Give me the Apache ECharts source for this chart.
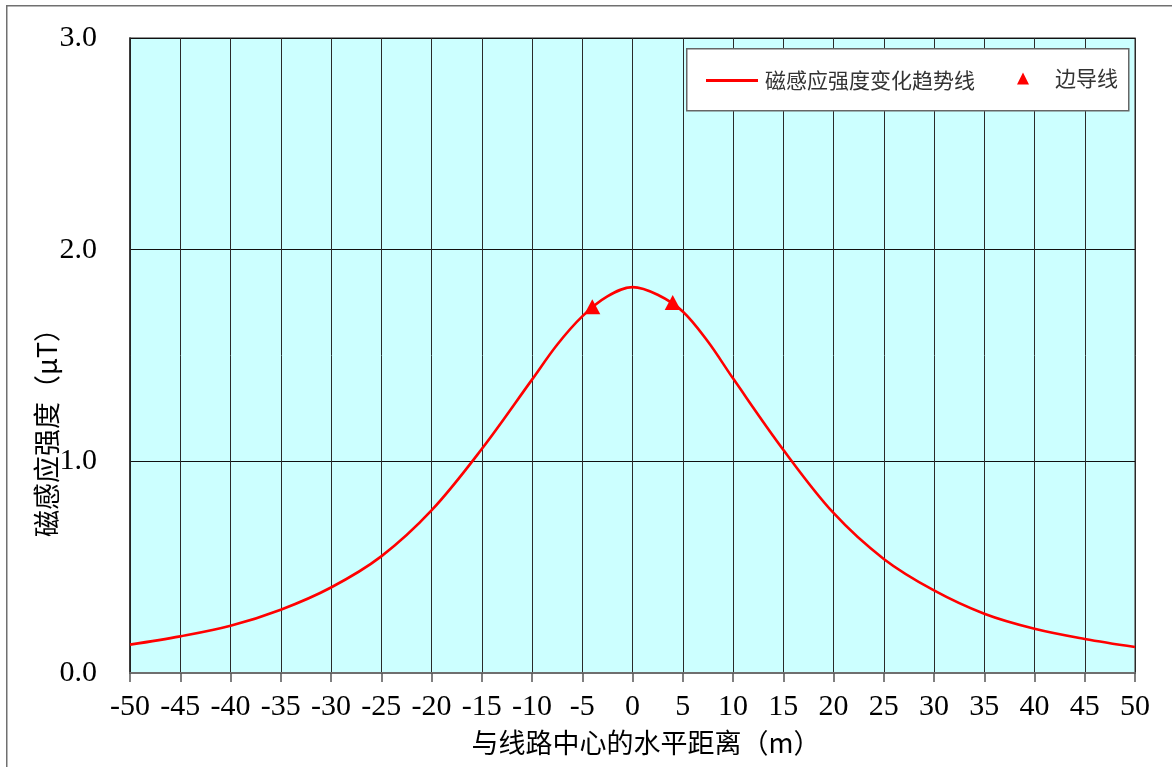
<!DOCTYPE html>
<html>
<head>
<meta charset="utf-8">
<script src="https://cdn.jsdelivr.net/npm/echarts@6/dist/echarts.min.js"></script>
<style>
html,body{margin:0;padding:0;background:#fff;}
#chart{width:1172px;height:767px;}
</style>
</head>
<body>
<div id="chart"></div>
<script>
// distance from line centre (m)
var distances = [-50, -45, -40, -35, -30, -25, -20, -15, -10, -7.5, -5, -2.5, 0, 2.5, 5, 7.5, 10, 15, 20, 25, 30, 35, 40, 45, 50];
// magnetic induction (μT)
var fieldValues = [0.134, 0.173, 0.223, 0.299, 0.404, 0.551, 0.768, 1.058, 1.386, 1.551, 1.685, 1.779, 1.823, 1.787, 1.708, 1.566, 1.392, 1.055, 0.756, 0.539, 0.390, 0.280, 0.209, 0.161, 0.123];
// side conductors
var conductorX = [-4, 4];
var conductorY = [1.73, 1.75];

var lineName = '磁感应强度变化趋势线';
var condName = '边导线';
var xTitle = '与线路中心的水平距离（m）';
var yTitle = '磁感应强度（μT）';

var chart = echarts.init(document.getElementById('chart'), null, {renderer: 'canvas'});

var linePts = distances.map(function (d, i) { return [d, fieldValues[i]]; });
var condPts = conductorX.map(function (d, i) { return [d, conductorY[i]]; });

var serif = '"Liberation Serif", "DejaVu Serif", serif';
var cjk = '"Noto Sans CJK SC", sans-serif';

chart.setOption({
  animation: false,
  backgroundColor: '#ffffff',
  grid: {
    left: 130, right: 37, top: 38, bottom: 94,
    show: true, backgroundColor: '#CCFFFF', borderColor: '#6f6f6f', borderWidth: 1.5
  },
  xAxis: {
    type: 'value', min: -50, max: 50, interval: 5,
    axisLine: {show: true, onZero: false, lineStyle: {color: '#6f6f6f', width: 2}},
    axisTick: {show: true, length: 9, lineStyle: {color: '#555', width: 1.5}},
    axisLabel: {color: '#000', fontFamily: serif, fontSize: 30, margin: 19},
    splitLine: {show: true, lineStyle: {color: '#2a2a2a', width: 1}}
  },
  yAxis: {
    type: 'value', min: 0, max: 3, interval: 1,
    axisLine: {show: true, onZero: false, lineStyle: {color: '#222', width: 1.5}},
    axisTick: {show: false},
    axisLabel: {color: '#000', fontFamily: serif, fontSize: 30, margin: 33,
      formatter: function (v) { return v.toFixed(1); }},
    splitLine: {show: true, lineStyle: {color: '#111', width: 1}}
  },
  legend: [
    {
      data: [{name: lineName, icon: 'path://M0 0H52V3H0Z'}], left: 706, top: 70, itemWidth: 52, itemHeight: 3,
      itemGap: 0, padding: 0,
      textStyle: {fontFamily: cjk, fontSize: 21, color: '#333', padding: [0, 0, 0, 2]},
      z: 10
    },
    {
      data: [{name: condName, icon: 'triangle'}], left: 1017, top: 68, itemWidth: 12, itemHeight: 12,
      itemGap: 0, padding: 0,
      textStyle: {fontFamily: cjk, fontSize: 21, color: '#333', padding: [0, 0, 0, 21]},
      z: 10
    }
  ],
  graphic: [
    {type: 'rect', left: 6, top: 5, shape: {width: 1200, height: 800}, silent: true,
      style: {fill: 'transparent', stroke: '#707070', lineWidth: 1.5}, z: -10},
    {type: 'rect', left: 686, top: 48, shape: {width: 442, height: 62}, silent: true,
      style: {fill: '#ffffff', stroke: '#666', lineWidth: 1.5}, z: 5},
    {type: 'text', x: 646, y: 743, silent: true,
      style: {text: xTitle, fontFamily: cjk, fontSize: 27, fill: '#000', align: 'center', verticalAlign: 'middle'}},
    {type: 'text', x: 47, y: 426, rotation: Math.PI / 2, silent: true,
      style: {text: yTitle, fontFamily: cjk, fontSize: 27, fill: '#000', align: 'center', verticalAlign: 'middle'}}
  ],
  series: [
    {
      name: lineName, type: 'line', data: linePts, smooth: 0.35,
      symbol: 'none', lineStyle: {color: '#FF0000', width: 2.6}, itemStyle: {color: '#FF0000'}, z: 3
    },
    {
      name: condName, type: 'scatter', data: condPts, symbol: 'triangle', symbolSize: [16, 15],
      itemStyle: {color: '#FF0000', opacity: 1}, z: 4
    }
  ]
});
</script>
</body>
</html>
